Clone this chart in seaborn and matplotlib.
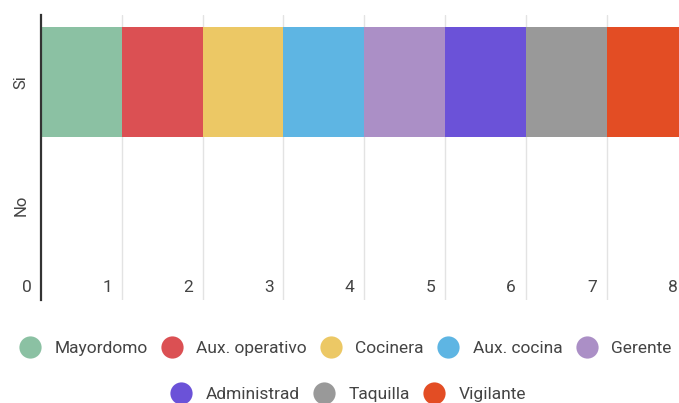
import matplotlib
matplotlib.use("Agg")
import matplotlib.pyplot as plt
import seaborn as sns
import pandas as pd
import numpy as np
from matplotlib.lines import Line2D

respuestas = ["Si", "No"]
puestos = ["Mayordomo", "Aux. operativo", "Cocinera", "Aux. cocina", "Gerente",
           "Administrad", "Taquilla", "Vigilante"]
valores_si = [1, 1, 1, 1, 1, 1, 1, 1]
valores_no = [0, 0, 0, 0, 0, 0, 0, 0]
colores = ["#8BC1A3", "#DB5053", "#ECC865", "#5EB5E3", "#AB8FC6",
           "#6B52D8", "#999999", "#E34D24"]
x_ticks = [0, 1, 2, 3, 4, 5, 6, 7, 8]

sns.set_style("white")
plt.rcParams["font.family"] = ["Roboto", "DejaVu Sans"]

fig = plt.figure(figsize=(6.79, 4.03), dpi=100)
ax = fig.add_axes([41 / 679, 1 - 300 / 403, 1 - 41 / 679, 285 / 403])

# stacked bars: draw cumulative totals from the largest down
cum_si = np.cumsum(valores_si)
cum_no = np.cumsum(valores_no)
for i in range(len(puestos) - 1, -1, -1):
    df = pd.DataFrame({"resp": respuestas, "val": [cum_si[i], cum_no[i]]})
    sns.barplot(data=df, x="val", y="resp", orient="h", color=colores[i],
                saturation=1, width=0.9, ax=ax, linewidth=0, zorder=2)

ax.set_xlim(0, (679 - 41) / 80.8)
ax.set_ylim(1.77, -0.545)
ax.set_xlabel("")
ax.set_ylabel("")
for x in x_ticks[1:]:
    ax.axvline(x, color="#E3E3E3", lw=1, zorder=1)
ax.set_xticks([])
ax.tick_params(axis="y", length=0, pad=9, labelsize=12, labelcolor="#444444")
for lab in ax.get_yticklabels():
    lab.set_rotation(90)
    lab.set_va("center")
for s in ["top", "right", "bottom"]:
    ax.spines[s].set_visible(False)
ax.spines["left"].set_color("#333333")
ax.spines["left"].set_linewidth(1.6)

# tick labels drawn inside, to the left of each gridline
for x in x_ticks:
    ax.text(x - 0.12, 1.67, str(x), ha="right", va="center", fontsize=12.5,
            color="#444444", clip_on=False)

def handles(idx):
    return [Line2D([0], [0], marker="o", linestyle="", markersize=16,
                   markerfacecolor=colores[i], markeredgewidth=0,
                   label=puestos[i]) for i in idx]

leg_kw = dict(frameon=False, fontsize=12.5, handletextpad=0.75, columnspacing=0.75,
              labelcolor="#444444", borderaxespad=0, handlelength=1.3)
fig.legend(handles=handles(range(5)), ncol=5, loc="center",
           bbox_to_anchor=(345 / 679, 1 - 348 / 403), **leg_kw)
fig.legend(handles=handles(range(5, 8)), ncol=3, loc="center",
           bbox_to_anchor=(348 / 679, 1 - 394 / 403), **leg_kw)

fig.savefig("out.png", dpi=100)
